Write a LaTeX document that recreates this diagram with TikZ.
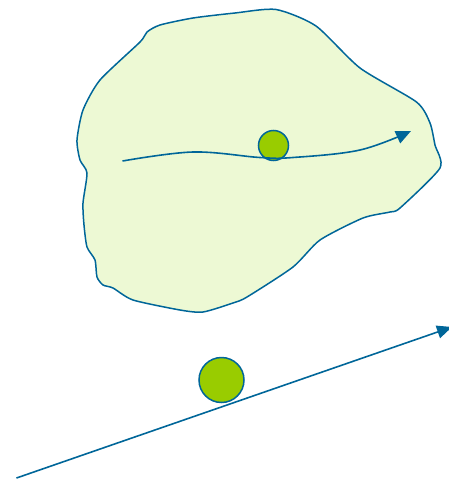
\documentclass[tikz,border=0pt]{standalone}
\usetikzlibrary{arrows.meta}
\definecolor{lineblue}{RGB}{0,102,153}
\definecolor{blobfill}{RGB}{237,249,212}
\definecolor{ballgreen}{RGB}{153,204,0}
\tikzset{
  outline/.style={draw=lineblue, line width=1.5pt, line join=round},
  ball/.style={circle, draw=lineblue, fill=ballgreen, line width=1.5pt, inner sep=0pt},
  path arrow/.style={draw=lineblue, line width=1.6pt, -{Triangle[length=15pt,width=13pt]}},
}
\begin{document}
\begin{tikzpicture}[x=1pt,y=-1pt]
\useasboundingbox (0,0) rectangle (449,479);
% blob
\path[outline, fill=blobfill] plot[smooth cycle, tension=0.4] coordinates {
 (276,9.5) (316,26) (360,68) (416.5,102) (430,123) (435,145) (440,168)
 (400,208) (390,212) (363,218) (320,240) (293,267) (247,297)
 (233,303) (203,312) (180,310) (133,300) (113,288) (103,285)
 (97,277) (95,260) (87,247) (84,225) (83,203) (87,173) (80,160) (77,140)
 (83,110) (100,80) (140,42) (147,32) (160,25) (193,18) (235,13)};
% curved arrow inside
\node[ball, minimum size=30pt] (b1) at (273.5,145.5) {};
\draw[path arrow] plot[smooth, tension=0.6] coordinates {(122.5,161) (193,152) (260,157.5) (293,157.5) (360,150) (411,131)};
% straight arrow
\coordinate (s2) at (16.5,478);
\coordinate (e2) at (452,327);
\node[ball, minimum size=45pt] (b2) at (221.5,380) {};
\draw[path arrow] (s2) -- (e2);
\end{tikzpicture}
\end{document}
